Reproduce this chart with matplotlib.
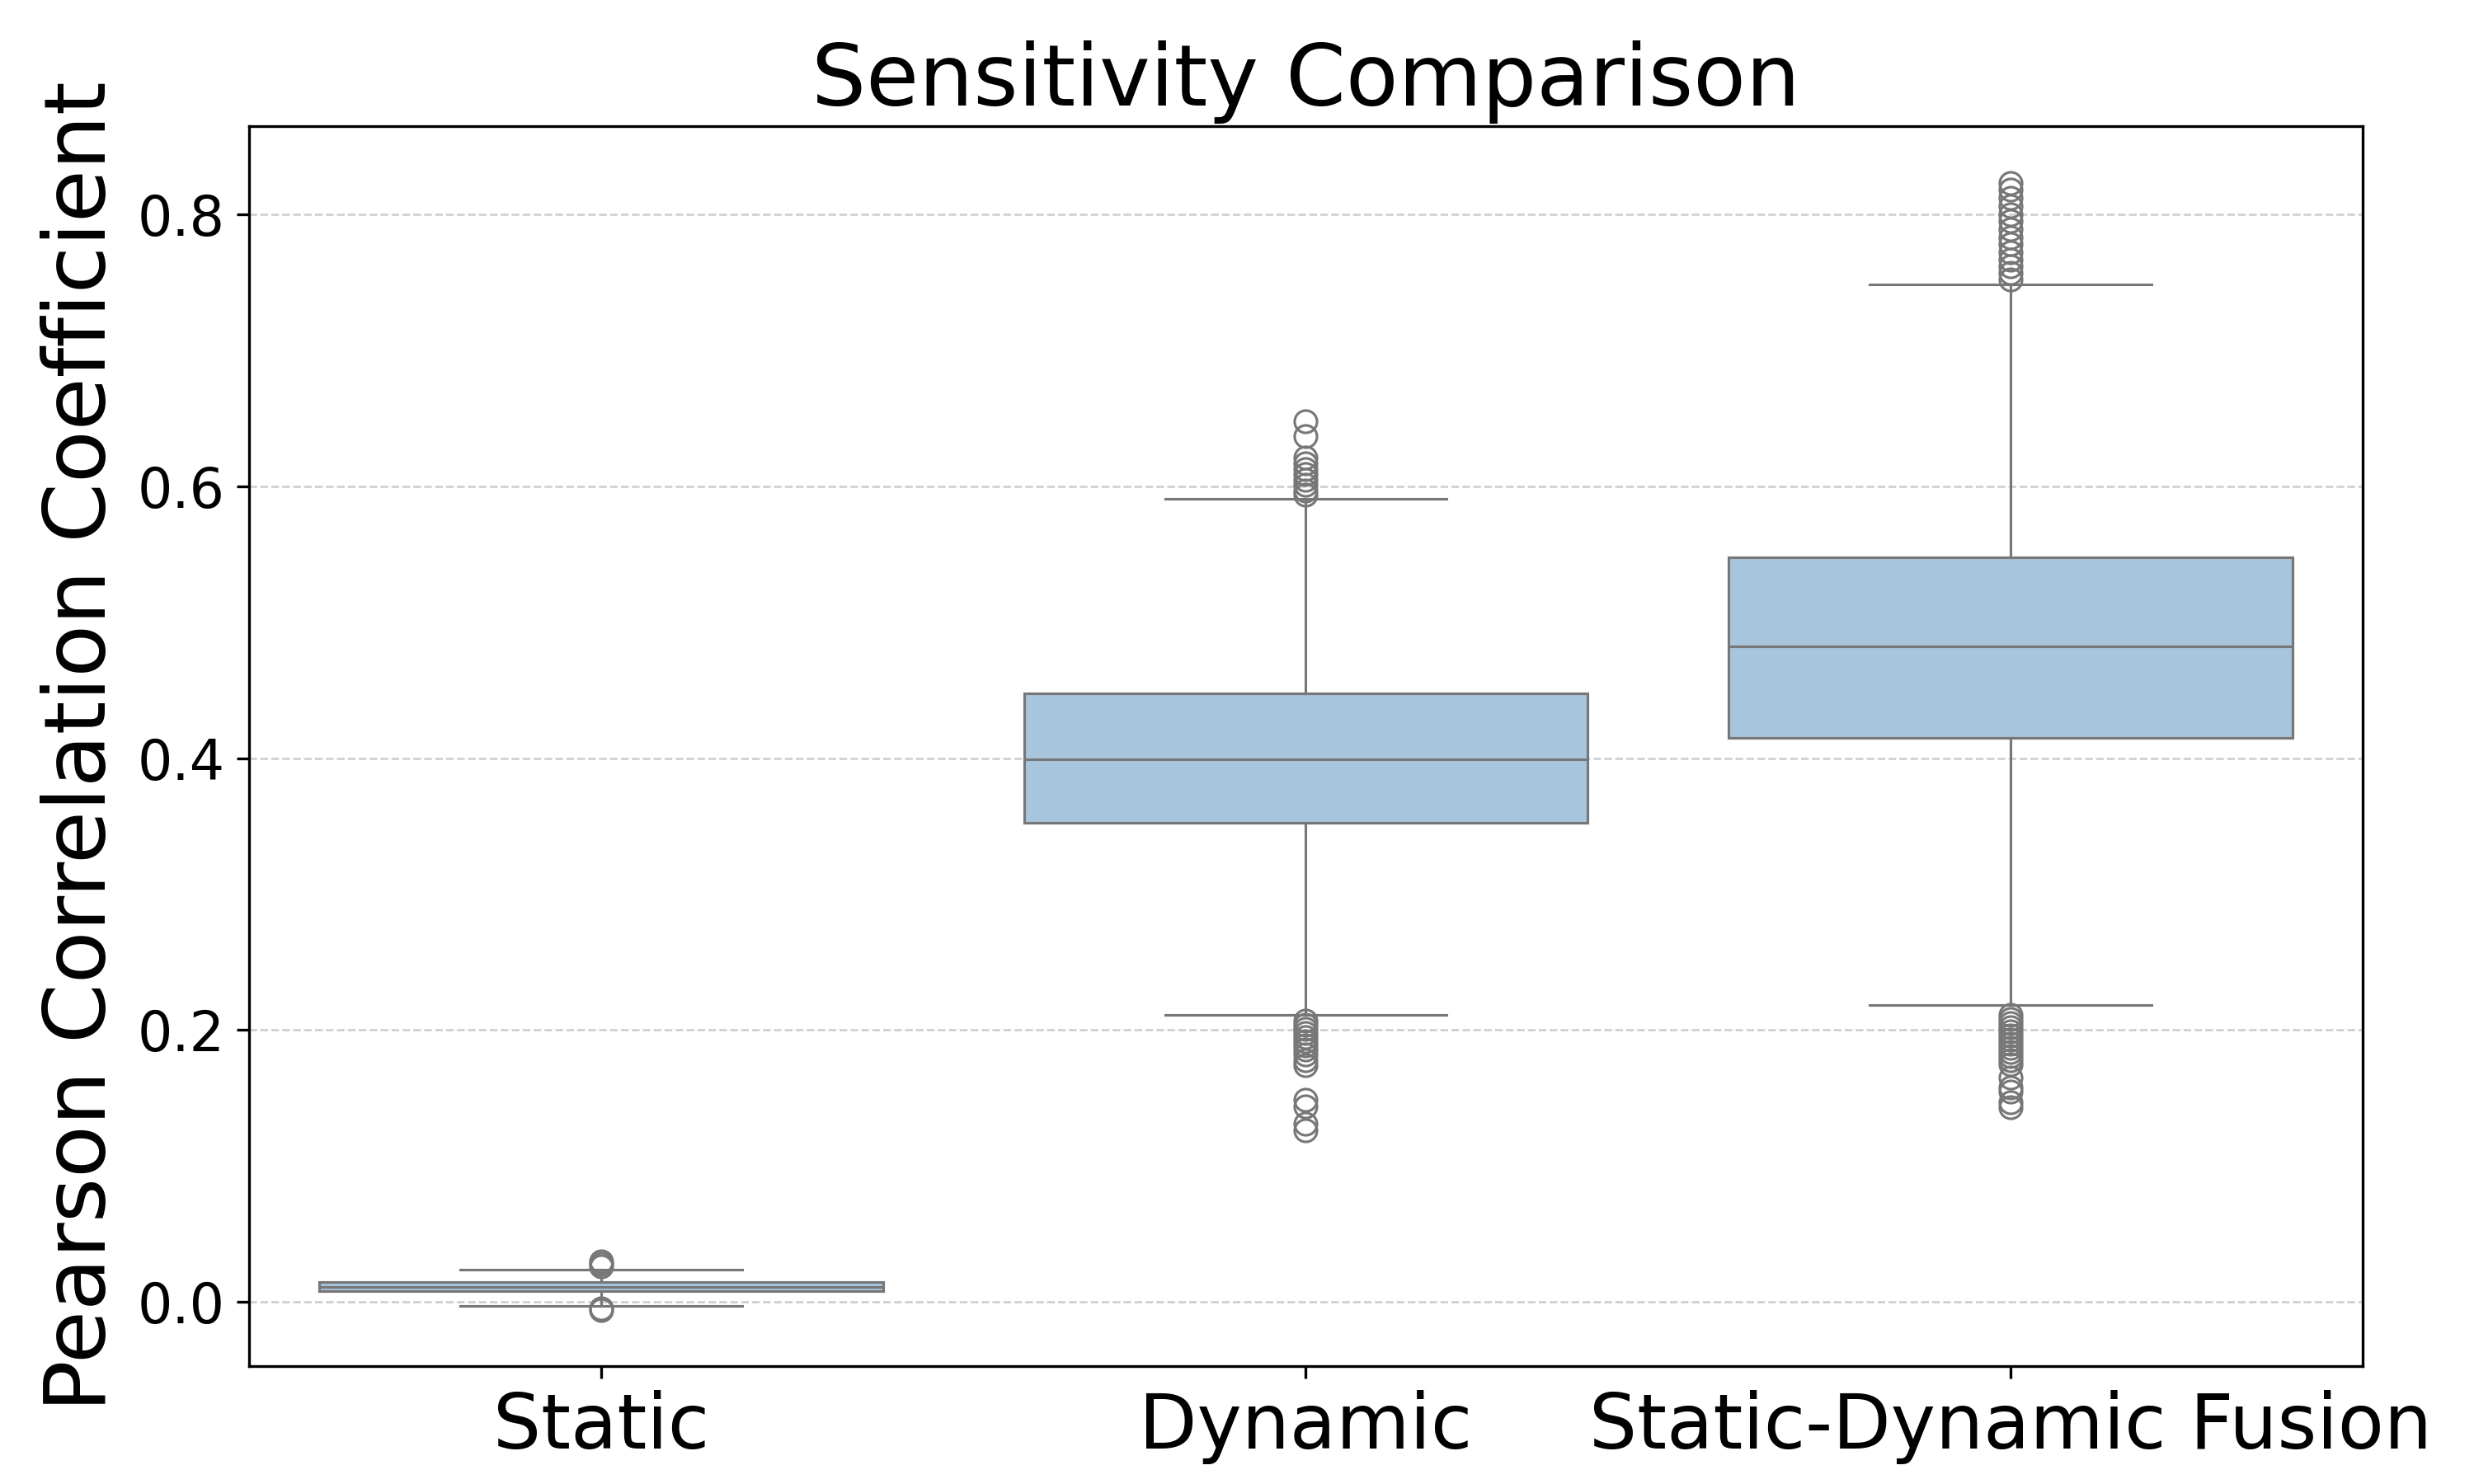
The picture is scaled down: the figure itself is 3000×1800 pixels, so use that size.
import matplotlib
matplotlib.use("Agg")
import matplotlib.pyplot as plt

# box statistics
categories = ['Static', 'Dynamic', 'Static-Dynamic Fusion']
medians = [0.0113, 0.399, 0.482]
q1 = [0.0080, 0.3525, 0.4147]
q3 = [0.0147, 0.448, 0.5477]
whisker_lo = [-0.003, 0.211, 0.2184]
whisker_hi = [0.024, 0.5906, 0.7487]

fliers_static = [0.030, 0.028, 0.026, -0.0045, -0.006]
fliers_dynamic = [0.648, 0.637, 0.621, 0.617, 0.613, 0.609, 0.605, 0.601, 0.597, 0.594,
                  0.207, 0.204, 0.201, 0.198, 0.195, 0.192, 0.189, 0.186, 0.182, 0.178,
                  0.174, 0.149, 0.1436, 0.131, 0.126]
fliers_fusion = [0.823, 0.818, 0.812, 0.806, 0.800, 0.795, 0.789, 0.783, 0.778, 0.772,
                 0.767, 0.762, 0.757, 0.752,
                 0.211, 0.208, 0.205, 0.202, 0.199, 0.196, 0.193, 0.190, 0.187, 0.184,
                 0.181, 0.178, 0.175, 0.165, 0.158, 0.155, 0.147, 0.143]
fliers = [fliers_static, fliers_dynamic, fliers_fusion]

box_color = '#a8c5de'
line_color = '#777777'

stats = []
for i, name in enumerate(categories):
    stats.append({'label': name, 'med': medians[i], 'q1': q1[i], 'q3': q3[i],
                  'whislo': whisker_lo[i], 'whishi': whisker_hi[i], 'fliers': fliers[i]})

fig, ax = plt.subplots(figsize=(10, 6), dpi=300)
lw = 0.75
ax.bxp(stats, positions=range(len(categories)), widths=0.8, capwidths=0.4,
       patch_artist=True,
       boxprops=dict(facecolor=box_color, edgecolor=line_color, linewidth=lw),
       medianprops=dict(color=line_color, linewidth=lw),
       whiskerprops=dict(color=line_color, linewidth=lw),
       capprops=dict(color=line_color, linewidth=lw),
       flierprops=dict(marker='o', markerfacecolor='none', markeredgecolor=line_color,
                       markersize=6.5, markeredgewidth=lw))

ax.set_xlim(-0.5, 2.5)
ax.set_ylim(-0.047, 0.865)
ax.set_yticks([0.0, 0.2, 0.4, 0.6, 0.8])
ax.yaxis.grid(True, linestyle='--', color='#cccccc', linewidth=0.6)
ax.set_axisbelow(True)
ax.set_title('Sensitivity Comparison', fontsize=25)
ax.set_ylabel('Pearson Correlation Coefficient', fontsize=25)
ax.tick_params(axis='x', labelsize=22)
ax.tick_params(axis='y', labelsize=16)

plt.subplots_adjust(left=0.1006, right=0.955, top=0.915, bottom=0.0796)
plt.savefig('out.png', dpi=300)
